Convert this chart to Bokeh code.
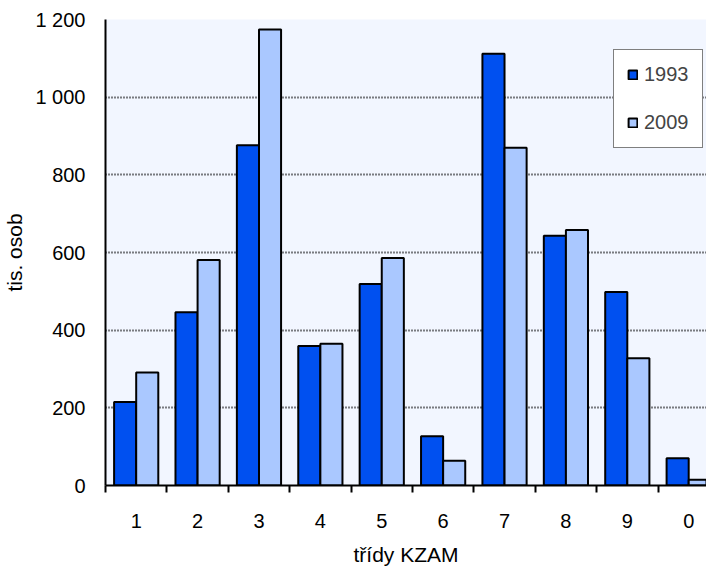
from bokeh.plotting import figure
from bokeh.models import FixedTicker, Range1d, Legend, LegendItem, ColumnDataSource
from bokeh.embed import file_html
from bokeh.resources import INLINE

categories = ["1", "2", "3", "4", "5", "6", "7", "8", "9", "0"]
values_1993 = [215, 446, 876, 359, 519, 127, 1112, 643, 498, 70]
values_2009 = [291, 581, 1174, 365, 586, 64, 870, 658, 328, 15]
y_ticks = [0, 200, 400, 600, 800, 1000, 1200]
y_tick_labels = ["0", "200", "400", "600", "800", "1 000", "1 200"]

FONT = "Liberation Sans"
pos = [i + 0.5 for i in range(len(categories))]
src = ColumnDataSource(dict(
    x1=[x - 0.18 for x in pos], x2=[x + 0.18 for x in pos],
    v1993=values_1993, v2009=values_2009))

p = figure(width=706, height=568, output_backend="svg", toolbar_location=None,
           x_range=Range1d(0, 9.79), y_range=Range1d(0, 1200),
           min_border_left=97, min_border_top=19, min_border_right=0, min_border_bottom=83)
p.background_fill_color = "#F2F6FF"
p.border_fill_color = "white"
p.outline_line_color = None

r1 = p.vbar(x="x1", top="v1993", width=0.36, source=src,
            fill_color="#0050F0", line_color="black", line_width=2)
r2 = p.vbar(x="x2", top="v2009", width=0.36, source=src,
            fill_color="#AAC8FF", line_color="black", line_width=2)

# axes
p.xaxis.ticker = FixedTicker(ticks=pos, minor_ticks=list(range(0, 11)))
p.xaxis.major_label_overrides = {x: c for x, c in zip(pos, categories)}
p.xaxis.major_tick_out = 0
p.xaxis.major_tick_in = 0
p.xaxis.minor_tick_out = 7
p.xaxis.minor_tick_in = 0
p.xaxis.minor_tick_line_color = "black"
p.xaxis.minor_tick_line_width = 2
p.xaxis.axis_label = "třídy KZAM"
p.xaxis.major_label_standoff = 21
p.xaxis.axis_label_standoff = 12

p.yaxis.ticker = FixedTicker(ticks=y_ticks)
p.yaxis.major_label_overrides = {t: l for t, l in zip(y_ticks, y_tick_labels)}
p.yaxis.major_tick_out = 6
p.yaxis.major_tick_in = 0
p.yaxis.major_tick_line_width = 2
p.yaxis.minor_tick_line_color = None
p.yaxis.axis_label = "tis. osob"
p.yaxis.major_label_standoff = 14
p.yaxis.axis_label_standoff = 6

for ax in (p.xaxis, p.yaxis):
    ax.axis_line_color = "black"
    ax.axis_line_width = 2
    ax.major_tick_line_color = "black" if ax is p.yaxis else None
    ax.major_label_text_font = FONT
    ax.major_label_text_font_size = "20px"
    ax.major_label_text_color = "black"
    ax.axis_label_text_font = FONT
    ax.axis_label_text_font_size = "21px"
    ax.axis_label_text_font_style = "normal"
    ax.axis_label_text_color = "black"

p.xgrid.grid_line_color = None
p.ygrid.grid_line_color = "black"
p.ygrid.grid_line_dash = "1 2"
p.ygrid.grid_line_width = 2

legend = Legend(items=[LegendItem(label="1993", renderers=[r1]),
                       LegendItem(label="2009", renderers=[r2])],
                location=(508, 337))
legend.label_text_font = FONT
legend.label_text_font_size = "20px"
legend.label_height = 20
legend.glyph_width = 11
legend.glyph_height = 11
legend.label_standoff = 6
legend.spacing = 25
legend.padding = 13
legend.margin = 0
legend.border_line_color = "black"
legend.border_line_width = 1.5
legend.background_fill_color = "white"
legend.background_fill_alpha = 1
p.add_layout(legend)

open("out.html", "w").write(file_html(p, INLINE))
